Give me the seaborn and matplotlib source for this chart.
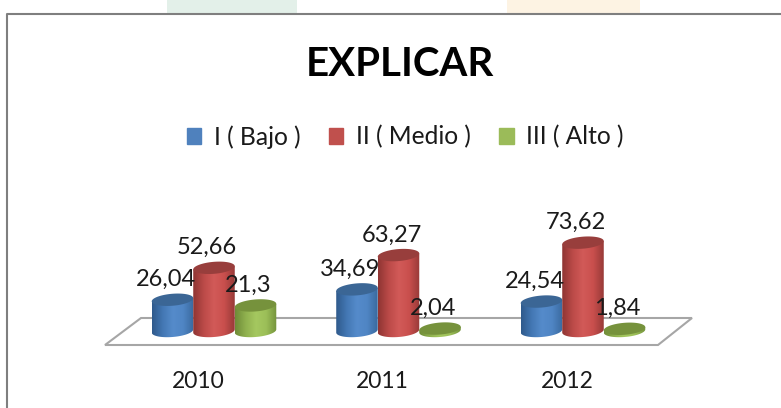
import matplotlib
matplotlib.use('Agg')
import matplotlib.pyplot as plt
import numpy as np
import pandas as pd
import seaborn as sns
from matplotlib.colors import LinearSegmentedColormap
from matplotlib.lines import Line2D
from matplotlib.patches import Rectangle, Polygon
from matplotlib.transforms import ScaledTranslation

anios = ['2010', '2011', '2012']
niveles = ['I ( Bajo )', 'II ( Medio )', 'III ( Alto )']
bajo = [26.04, 34.69, 24.54]
medio = [52.66, 63.27, 73.62]
alto = [21.3, 2.04, 1.84]

colores = ['#4f81bd', '#c0504d', '#9bbb59']
tapas = ['#3b6695', '#983e3c', '#76923c']
degradados = [
    ['#2f5a8c', '#4377b3', '#558bcb', '#4f85c4', '#3a6a9f'],
    ['#8f3533', '#bb4a48', '#d25a58', '#c94f4d', '#983a38'],
    ['#6f8c38', '#8fb04e', '#a5c860', '#9cbf58', '#74933c'],
]

W, H = 781, 408


def px_x(x):
    return x / W


def px_y(y):
    return 1 - y / H


def elipse(cx, cy, a, b, k, t):
    return cx + a * np.cos(t), cy + b * np.sin(t) + k * np.cos(t)


df = pd.DataFrame({'Anio': anios * 3,
                   'Nivel': np.repeat(niveles, 3),
                   'Valor': bajo + medio + alto})

sns.set_theme(style='white')
plt.rcParams['font.family'] = ['Lato', 'DejaVu Sans']

fig = plt.figure(figsize=(W / 100, H / 100), dpi=100)
ax = fig.add_axes([0, px_y(345), 1, px_y(0) - px_y(345)])
ax.patch.set_alpha(0)

sns.barplot(data=df, x='Anio', y='Valor', hue='Nivel', palette=colores,
            width=0.675, gap=0, dodge=True, ax=ax, legend=False)

# escala: 184.5 px por categoria, 1.2 px por unidad
x0, dx = 214, 184.5
y_px = 1.2
xlim = ((0 - x0) / dx, (W - x0) / dx)
ylim = (-(345 - 331) / y_px, (331 - 0) / y_px)

# fondo y marco
fig.add_artist(Rectangle((px_x(167), px_y(13)), 130 / W, 13 / H, color='#e3f0e9', lw=0, zorder=-3))
fig.add_artist(Rectangle((px_x(507), px_y(13)), 133 / W, 13 / H, color='#fdf3e3', lw=0, zorder=-3))
fig.add_artist(Line2D([px_x(6.5), px_x(6.5), 1], [0, px_y(13.5), px_y(13.5)], color='#7f7f7f', lw=1.5, zorder=-2))

# piso
piso = [(105, 345), (141, 318), (692, 318), (658, 345)]
fig.add_artist(Polygon([(px_x(a), px_y(b)) for a, b in piso], closed=True,
                       facecolor='white', edgecolor='#a6a6a6', lw=1.5, zorder=-1))

t_baja = np.linspace(np.pi, 2 * np.pi, 40)
t_full = np.linspace(0, 2 * np.pi, 80)
b = 6 / y_px
k = 1.6 / y_px

for i, cont in enumerate(ax.containers):
    cmap = LinearSegmentedColormap.from_list('cil', degradados[i])
    grad = np.linspace(0, 1, 64).reshape(1, -1)
    for bar, val in zip(cont.patches, cont.datavalues):
        bar.set_visible(False)
        cx = bar.get_x() + bar.get_width() / 2
        a = bar.get_width() / 2
        xb, yb = elipse(cx, 0, a, b, k, t_baja)
        xs = np.concatenate([xb, [cx + a, cx - a]])
        ys = np.concatenate([yb, [val + k, val - k]])
        z = 3 + i
        im = ax.imshow(grad, cmap=cmap, aspect='auto', zorder=z,
                       extent=(cx - a, cx + a, -b - k, val + k))
        clip = Polygon(np.column_stack([xs, ys]), closed=True, transform=ax.transData)
        im.set_clip_path(clip)
        xt, yt = elipse(cx, val, a, b, k, t_full)
        ax.fill(xt, yt, color=tapas[i], lw=0, zorder=z + 0.1)
        ax.annotate(f'{val}'.replace('.', ','), (cx, val), xytext=(-7, 20),
                    textcoords='offset pixels', ha='center', va='center',
                    fontsize=17, color='#1a1a1a', zorder=10)

ax.set_xlim(xlim)
ax.set_ylim(ylim)
ax.set_xlabel('')
ax.set_ylabel('')
ax.set_yticks([])
sns.despine(ax=ax, left=True, bottom=True)
ax.tick_params(axis='x', length=0, pad=19, labelsize=16.5, labelcolor='#1a1a1a')
desplaza = ScaledTranslation(-16 / 100, 0, fig.dpi_scale_trans)
for lab in ax.get_xticklabels():
    lab.set_transform(lab.get_transform() + desplaza)

fig.text(px_x(400), px_y(65), 'EXPLICAR', ha='center', va='center',
         fontsize=29, fontweight='bold', color='black')

handles = [Rectangle((0, 0), 1, 1, color=c) for c in colores]
fig.legend(handles, niveles, ncol=3, loc='center', bbox_to_anchor=(px_x(405), px_y(137)),
           frameon=False, fontsize=17.7, labelcolor='#1a1a1a', handlelength=0.6,
           handleheight=0.6, handletextpad=0.5, columnspacing=1.15)

fig.savefig('out.png', dpi=100)
